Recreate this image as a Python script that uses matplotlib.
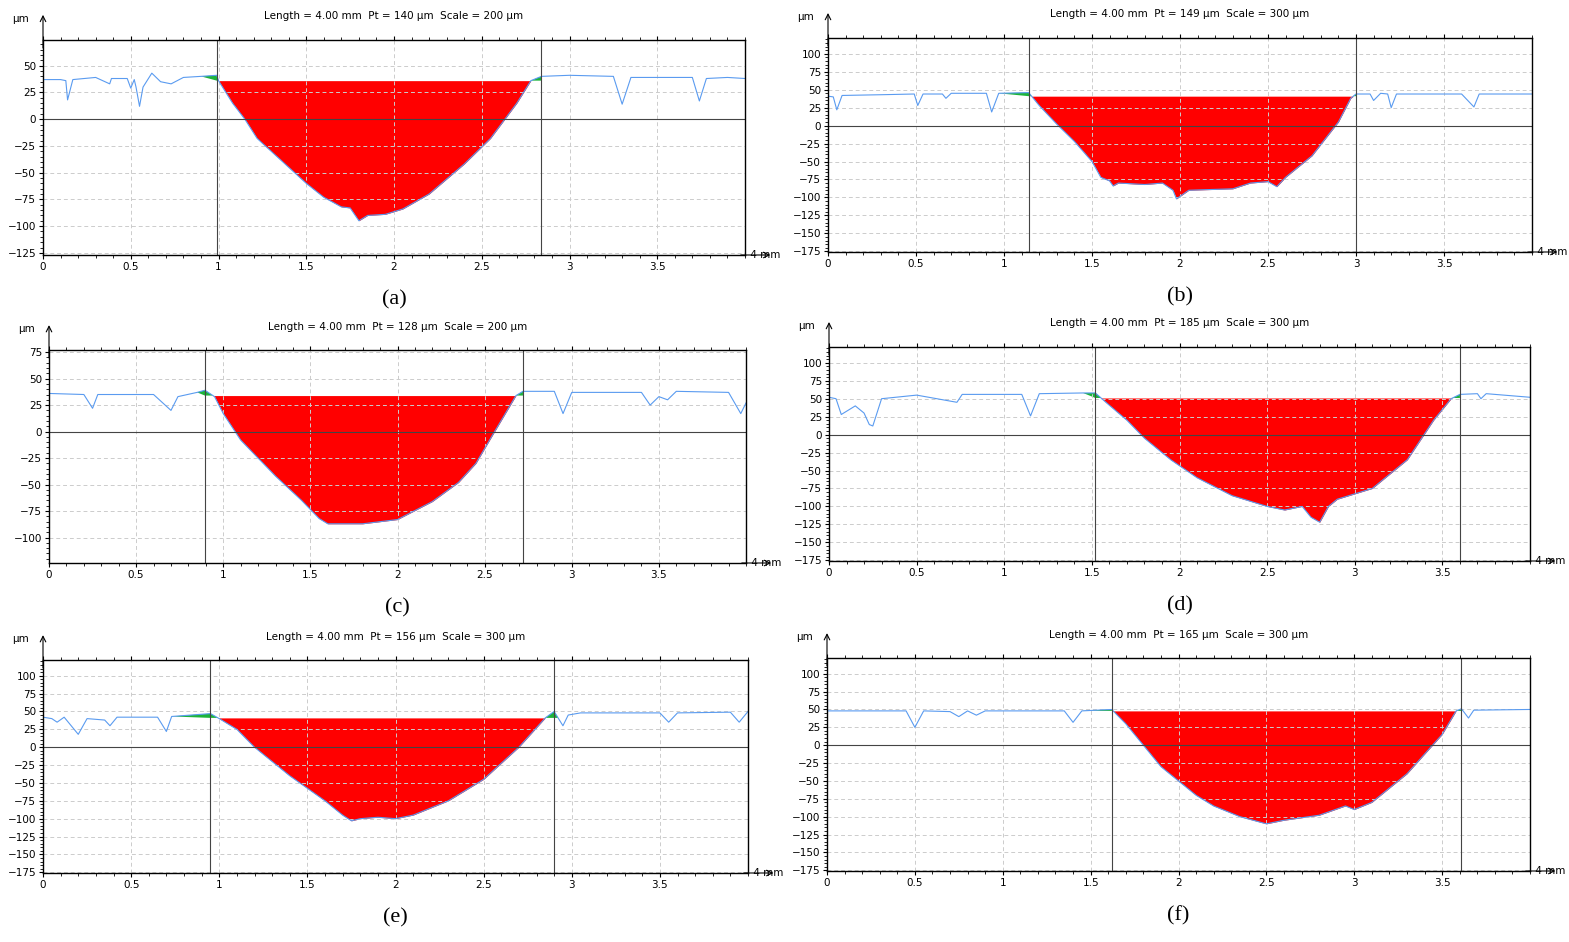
import numpy as np
import matplotlib
matplotlib.use('Agg')
import matplotlib.pyplot as plt
from matplotlib.ticker import MultipleLocator

# ── Profile data (x in mm, z in µm) ────────────────────────────────────
A_X = [0, 0.1, 0.13, 0.14, 0.17, 0.3, 0.38, 0.39, 0.48, 0.5, 0.52, 0.53, 0.55, 0.57, 0.62, 0.67, 0.73, 0.8, 0.9, 0.99,
       1.0, 1.08, 1.15, 1.22, 1.3, 1.4, 1.5, 1.6, 1.7, 1.75, 1.8, 1.85, 1.95, 2.05, 2.2, 2.4, 2.55, 2.7, 2.78,
       2.84, 3.0, 3.25, 3.3, 3.35, 3.7, 3.74, 3.78, 3.9, 4.0]
A_Z = [37, 37, 36, 18, 37, 39, 33, 38, 38, 29, 37, 30, 12, 30, 43, 35, 33, 39, 40, 41,
       36, 15, 0, -18, -30, -45, -60, -73, -82, -83, -95, -90, -89, -84, -70, -42, -18, 15, 36,
       40, 41, 40, 14, 39, 39, 17, 38, 39, 38]
A_CUT = [0.99, 2.84]
A_LEVEL = 36

B_X = [0, 0.03, 0.05, 0.08, 0.3, 0.49, 0.51, 0.54, 0.65, 0.67, 0.7, 0.9, 0.93, 0.97, 1.14,
       1.2, 1.3, 1.4, 1.5, 1.55, 1.6, 1.62, 1.65, 1.8, 1.9, 1.96, 1.98, 2.05, 2.3, 2.4, 2.5, 2.55, 2.6, 2.75, 2.9, 2.97,
       3.0, 3.08, 3.1, 3.14, 3.18, 3.2, 3.23, 3.6, 3.67, 3.7, 4.0]
B_Z = [41, 40, 22, 42, 43, 44, 28, 44, 44, 38, 45, 45, 19, 45, 46,
       28, 2, -22, -50, -72, -77, -84, -80, -82, -80, -90, -102, -90, -88, -80, -78, -85, -72, -42, 5, 38,
       44, 44, 35, 45, 44, 25, 44, 44, 26, 44, 44]
B_CUT = [1.14, 3.0]
B_LEVEL = 41

C_X = [0, 0.2, 0.25, 0.28, 0.6, 0.7, 0.74, 0.85, 0.895,
       0.95, 1.0, 1.1, 1.2, 1.3, 1.45, 1.55, 1.6, 1.8, 2.0, 2.2, 2.35, 2.45, 2.55, 2.68,
       2.72, 2.9, 2.95, 3.0, 3.4, 3.45, 3.5, 3.55, 3.6, 3.9, 3.97, 4.0]
C_Z = [36, 35, 22, 35, 35, 20, 33, 37, 39,
       33, 17, -8, -25, -42, -65, -82, -87, -87, -83, -66, -48, -30, -2, 34,
       38, 38, 17, 37, 37, 25, 33, 30, 38, 37, 17, 27]
C_CUT = [0.895, 2.72]
C_LEVEL = 34

D_X = [0, 0.04, 0.07, 0.15, 0.2, 0.23, 0.25, 0.3, 0.5, 0.73, 0.76, 1.1, 1.15, 1.2, 1.45, 1.52,
       1.58, 1.7, 1.8, 1.95, 2.1, 2.3, 2.5, 2.6, 2.7, 2.75, 2.8, 2.85, 2.9, 3.1, 3.3, 3.45, 3.55,
       3.6, 3.7, 3.72, 3.75, 4.0]
D_Z = [52, 50, 28, 40, 30, 14, 12, 50, 55, 45, 56, 56, 26, 57, 58, 58,
       45, 20, -5, -35, -60, -85, -100, -105, -100, -115, -122, -100, -90, -75, -35, 20, 50,
       56, 57, 50, 57, 52]
D_CUT = [1.52, 3.6]
D_LEVEL = 51

E_X = [0, 0.05, 0.08, 0.12, 0.2, 0.25, 0.35, 0.38, 0.42, 0.65, 0.7, 0.73, 0.95,
       1.0, 1.1, 1.2, 1.4, 1.6, 1.7, 1.75, 1.8, 1.9, 2.0, 2.1, 2.3, 2.5, 2.7, 2.85,
       2.9, 2.95, 2.98, 3.05, 3.5, 3.55, 3.6, 3.9, 3.95, 4.0]
E_Z = [42, 40, 35, 42, 18, 40, 38, 30, 42, 42, 22, 43, 47,
       40, 25, 0, -40, -75, -95, -103, -100, -98, -100, -95, -75, -45, 0, 41,
       50, 30, 45, 48, 48, 35, 48, 49, 35, 50]
E_CUT = [0.95, 2.9]
E_LEVEL = 41

F_X = [0, 0.45, 0.5, 0.55, 0.7, 0.75, 0.8, 0.85, 0.9, 1.35, 1.4, 1.45, 1.62,
       1.7, 1.8, 1.9, 2.1, 2.2, 2.35, 2.5, 2.6, 2.8, 2.95, 3.0, 3.1, 3.3, 3.5, 3.58,
       3.61, 3.65, 3.68, 4.0]
F_Z = [48, 48, 25, 48, 47, 40, 48, 42, 48, 48, 32, 48, 50,
       30, 0, -30, -70, -85, -100, -110, -105, -98, -85, -90, -80, -40, 15, 48,
       51, 38, 49, 50]
F_CUT = [1.62, 3.61]
F_LEVEL = 48

TITLES = ['Length = 4.00 mm  Pt = 140 µm  Scale = 200 µm',
          'Length = 4.00 mm  Pt = 149 µm  Scale = 300 µm',
          'Length = 4.00 mm  Pt = 128 µm  Scale = 200 µm',
          'Length = 4.00 mm  Pt = 185 µm  Scale = 300 µm',
          'Length = 4.00 mm  Pt = 156 µm  Scale = 300 µm',
          'Length = 4.00 mm  Pt = 165 µm  Scale = 300 µm']
LETTERS = ['a', 'b', 'c', 'd', 'e', 'f']
YLIMS = [(-127, 74), (-176, 122), (-124, 77), (-176, 122), (-176, 122), (-176, 122)]
YTICKS = [np.arange(-125, 51, 25), np.arange(-175, 101, 25), np.arange(-100, 76, 25),
          np.arange(-175, 101, 25), np.arange(-175, 101, 25), np.arange(-175, 101, 25)]

# axes boxes in pixels: left, top, right, bottom
BOXES = [(43, 40, 745, 255), (828, 38, 1532, 252), (49, 350, 746, 563),
         (829, 347, 1530, 561), (43, 660, 748, 873), (827, 658, 1530, 871)]

W, H = 1569, 942
fig = plt.figure(figsize=(W / 100, H / 100), dpi=100)

panels = [(A_X, A_Z, A_CUT, A_LEVEL), (B_X, B_Z, B_CUT, B_LEVEL), (C_X, C_Z, C_CUT, C_LEVEL),
          (D_X, D_Z, D_CUT, D_LEVEL), (E_X, E_Z, E_CUT, E_LEVEL), (F_X, F_Z, F_CUT, F_LEVEL)]

for i, (px, pz, cut, level) in enumerate(panels):
    l, t, r, b = BOXES[i]
    ax = fig.add_axes([l / W, 1 - b / H, (r - l) / W, (b - t) / H])
    px = np.array(px)
    pz = np.array(pz)
    inside = (px >= cut[0]) & (px <= cut[1])
    ax.fill_between(px, pz, level, where=inside & (pz <= level), interpolate=True,
                    color='#ff0000', lw=0)
    ax.fill_between(px, pz, level, where=inside & (pz >= level), interpolate=True,
                    color='#1db43a', lw=0)
    ax.plot(px, pz, color='#5a9bf0', lw=0.8)
    ax.axhline(0, color='#444444', lw=0.8)
    for c in cut:
        ax.axvline(c, color='#444444', lw=0.8)
    ax.set_xlim(0, 4)
    ax.set_ylim(*YLIMS[i])
    ax.set_xticks([0, 0.5, 1, 1.5, 2, 2.5, 3, 3.5])
    ax.set_xticklabels(['0', '0.5', '1', '1.5', '2', '2.5', '3', '3.5'])
    ax.set_yticks(YTICKS[i])
    ax.xaxis.set_minor_locator(MultipleLocator(0.1))
    ax.yaxis.set_minor_locator(MultipleLocator(5))
    ax.tick_params(labelsize=7.5, length=3, width=0.8, pad=2)
    ax.tick_params(axis='x', which='both', top=True)
    ax.tick_params(which='minor', length=2, width=0.6)
    ax.grid(True, which='major', color='#cccccc', ls=(0, (4, 3)), lw=0.7)
    for s in ax.spines.values():
        s.set_linewidth(1.0)
    ax.text(4.01, YLIMS[i][0], ' 4 mm', fontsize=7.5, va='center', ha='left', clip_on=False)
    ax.text(-0.02, 1.10, 'µm', transform=ax.transAxes, fontsize=7.5, ha='right', va='center')
    ax.annotate('', xy=(0, 1.13), xytext=(0, 0.95), xycoords='axes fraction',
                arrowprops=dict(arrowstyle='->', lw=0.8, color='black'))
    ax.annotate('', xy=(1.04, 0), xytext=(0.99, 0), xycoords='axes fraction',
                arrowprops=dict(arrowstyle='->', lw=0.8, color='black'))
    ax.text(0.5, 1.11, TITLES[i], transform=ax.transAxes, fontsize=7.5, ha='center', va='center')
    ax.text(0.5, -0.21, f'({LETTERS[i]})', transform=ax.transAxes, ha='center', va='center',
            fontsize=16, family='Liberation Serif')
    ax.text(0.5, -0.21, LETTERS[i], transform=ax.transAxes, ha='center', va='center',
            fontsize=16, family='Liberation Serif', fontweight='bold', alpha=0)

fig.savefig('out.png', dpi=100)
